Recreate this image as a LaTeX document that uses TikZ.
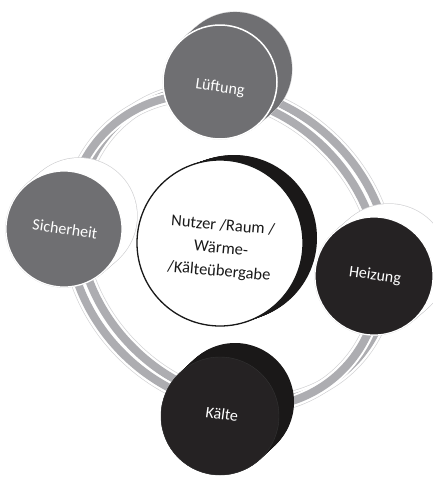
\documentclass[tikz,border=0pt]{standalone}
\usepackage{fontspec}
\setmainfont{Carlito}
\definecolor{ringgray}{HTML}{ADADB1}
\definecolor{midgray}{HTML}{6F6F72}
\definecolor{darkface}{HTML}{252223}
\definecolor{darkback}{HTML}{1A1818}
\definecolor{edgegray}{HTML}{D4D4D6}
\newcommand\backhull[6]{%
  \foreach \k in {0,...,16}{\fill[#6] ({#1+\k*(#4)/16},{#2+\k*(#5)/16}) circle (#3);}%
}
\newcommand\whitehull[5]{%
  \foreach \k in {0,...,16}{\draw[draw=edgegray,line width=1.4pt,fill=white] ({#1+\k*(#4)/16},{#2+\k*(#5)/16}) circle (#3);}%
  \foreach \k in {0,...,16}{\fill[white] ({#1+\k*(#4)/16},{#2+\k*(#5)/16}) circle (#3);}%
}
\begin{document}
\begin{tikzpicture}[x=1pt,y=-1pt,
  txt/.style={font=\fontsize{16}{20}\selectfont, text=white, align=center, inner sep=0pt},
  ctxt/.style={font=\fontsize{16.5}{23}\selectfont, text=black!90, align=center, inner sep=0pt},
]
\useasboundingbox (0,0) rectangle (432,477);
\fill[white] (0,0) rectangle (432,477);
% ---- double ring ----
\foreach \cx/\cy in {224/251,234/245}{
  \draw[draw=edgegray,line width=14pt,rotate around={-46:(\cx,\cy)}] (\cx,\cy) ellipse [x radius=168, y radius=144];}
\foreach \cx/\cy in {224/251,234/245}{
  \draw[draw=white,line width=12.6pt,rotate around={-46:(\cx,\cy)}] (\cx,\cy) ellipse [x radius=168, y radius=144];}
\draw[draw=ringgray,line width=8pt,rotate around={-46:(234,245)}] (234,245) ellipse [x radius=168, y radius=144];
\draw[draw=white,line width=12pt,rotate around={-46:(224,251)}] (224,251) ellipse [x radius=168, y radius=144];
\draw[draw=ringgray,line width=8pt,rotate around={-46:(224,251)}] (224,251) ellipse [x radius=168, y radius=144];
% ---- centre disk ----
\backhull{220}{243}{83}{14}{-5}{darkback}
\fill[white] (220,243) circle (83);
\draw[black!90,line width=1.3pt] (220,243) circle (83);
\node[ctxt,rotate=-5] (center) at (221,249) {Nutzer /Raum /\\Wärme-\\/Kälteübergabe};
% ---- Lüftung ----
\foreach \k in {0,...,16}{\draw[draw=edgegray,line width=1.2pt,fill=midgray] ({220+\k*15/16},{82-\k*13/16}) circle (57);}
\backhull{220}{82}{57}{15}{-13}{midgray}
\draw[fill=midgray,draw=white,line width=1.5pt] (220,82) circle (57);
\node[txt,rotate=-8] (lueftung) at (220,88) {Lüftung};
% ---- Sicherheit ----
\whitehull{64}{229}{58}{15}{-13}
\draw[fill=midgray,draw=white,line width=1.2pt] (64,229) circle (58);
\node[txt,rotate=-8] (sicherheit) at (65,229) {Sicherheit};
% ---- Heizung ----
\whitehull{374}{276}{59}{15}{-13}
\draw[fill=darkface,draw=white,line width=1.2pt] (374,276) circle (59);
\node[txt,rotate=-8] (heizung) at (375,276) {Heizung};
% ---- Kälte ----
\backhull{220}{416}{59}{15}{-14}{darkback}
\draw[fill=darkface,draw=black!80,line width=0.4pt] (220,416) circle (59);
\node[txt,rotate=-8] (kaelte) at (222,414) {Kälte};
\end{tikzpicture}
\end{document}
